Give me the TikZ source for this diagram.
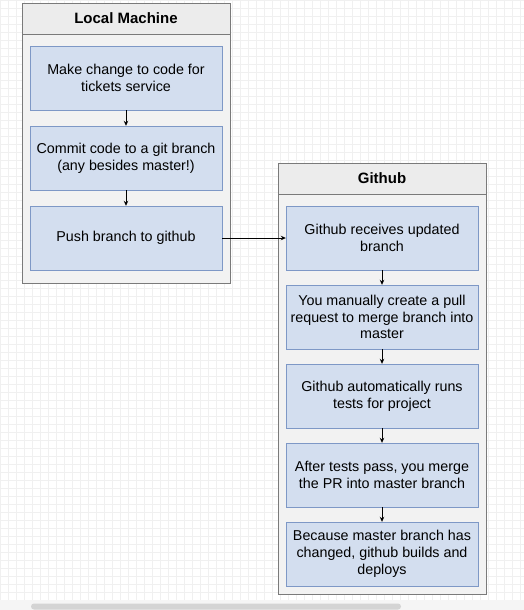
\documentclass[tikz,border=0pt]{standalone}
\usepackage{fontspec}
\setmainfont{Liberation Sans}
\usetikzlibrary{arrows.meta}
\definecolor{taskfill}{HTML}{D3DEEF}
\definecolor{taskline}{HTML}{7E98C6}
\definecolor{lanefill}{HTML}{F2F2F2}
\definecolor{headfill}{HTML}{ECECEC}
\definecolor{laneline}{HTML}{7A7A7A}
\definecolor{gridgray}{HTML}{F0F0F0}
\begin{document}
\begin{tikzpicture}[x=1pt,y=-1pt,
			task/.style={rectangle,draw=taskline,fill=taskfill,minimum width=192pt,minimum height=64pt,align=center,inner sep=2pt,font=\fontsize{14.3}{16.8}\selectfont},
			lane/.style={rectangle,draw=laneline,fill=lanefill,minimum width=208pt,line width=0.8pt},
			lanehead/.style={lane,fill=headfill,minimum height=31pt,font=\bfseries\fontsize{15}{18}\selectfont},
			flow/.style={-{Stealth[length=5pt,width=4.5pt]},line width=0.7pt}
		]
		% canvas
		\useasboundingbox (0,0) rectangle (524,610);
		\fill[white] (0,0) rectangle (524,610);
		\draw[gridgray,step=8pt] (0,600) grid (524,0);
		\fill[black!4] (0,600) rectangle (524,610);
		\fill[black!17,rounded corners=3pt] (31,603.5) rectangle (401,609.5);
		% local machine
		\node[lane,minimum height=280pt] (local) at (126,143) {};
		\node[lanehead,anchor=north] (localhead) at (local.north) {Local Machine};
		\node[task] (change) at (126,78) {Make change to code for\\tickets service};
		\node[task] (commit) at (126,158) {Commit code to a git branch\\(any besides master!)};
		\node[task] (push) at (126,238) {Push branch to github};
		% github
		\node[lane,minimum height=431pt] (github) at (382,378.5) {};
		\node[lanehead,anchor=north] (githubhead) at (github.north) {Github};
		\node[task] (receive) at (382,238) {Github receives updated\\branch};
		\node[task] (pull) at (382,317) {You manually create a pull\\request to merge branch into\\master};
		\node[task] (tests) at (382,396) {Github automatically runs\\tests for project};
		\node[task] (merge) at (382,475) {After tests pass, you merge\\the PR into master branch};
		\node[task] (deploy) at (382,554) {Because master branch has\\changed, github builds and\\deploys};
		\draw[flow] (change) -- (commit);
		\draw[flow] (commit) -- (push);
		\draw[flow] (push) -- (receive);
		\draw[flow] (receive) -- (pull);
		\draw[flow] (pull) -- (tests);
		\draw[flow] (tests) -- (merge);
		\draw[flow] (merge) -- (deploy);
	\end{tikzpicture}
\end{document}
